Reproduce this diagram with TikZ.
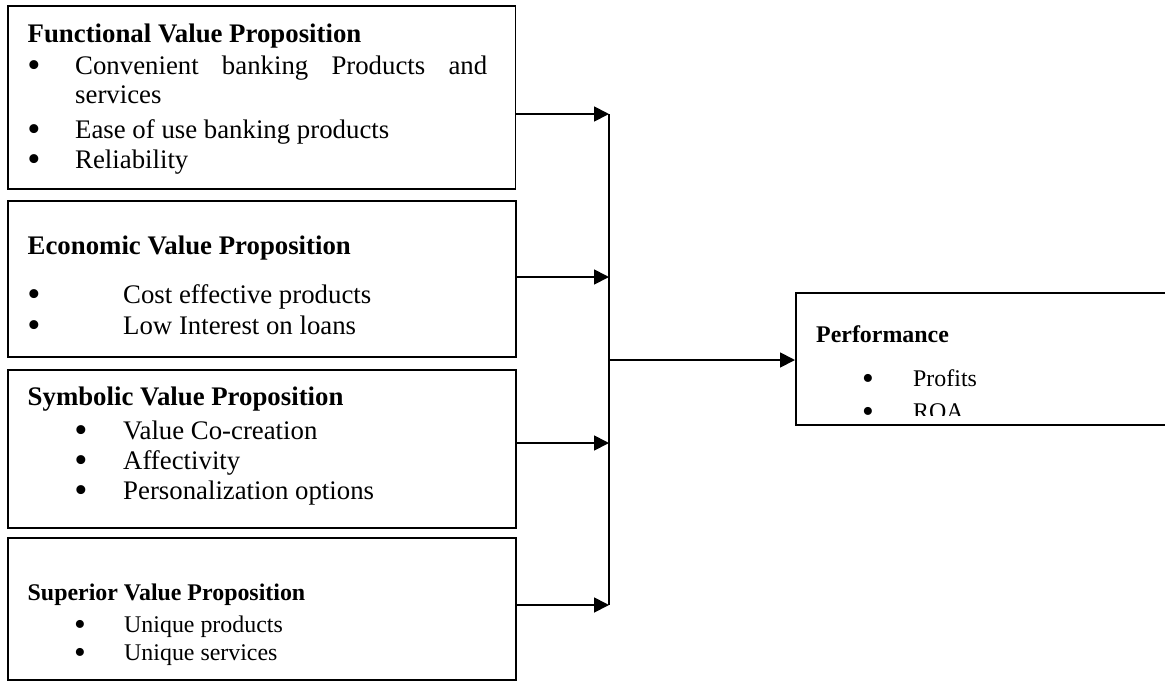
\documentclass[tikz,border=0pt]{standalone}
\usepackage{fontspec}
\setmainfont{Liberation Serif}
\usetikzlibrary{arrows.meta}
\newcommand{\bigbul}{\smash{\raisebox{-3pt}{\scalebox{1.4}{\textbullet}}}}
\begin{document}
\begin{tikzpicture}[x=1pt,y=-1pt,
  box/.style={draw,line width=1.8pt,inner sep=0pt,anchor=north west},
  txt/.style={anchor=base west,inner sep=0pt,font=\fontsize{26.8}{30}\selectfont},
  ttl/.style={anchor=base west,inner sep=0pt,font=\fontsize{26.8}{30}\selectfont\bfseries},
  stxt/.style={anchor=base west,inner sep=0pt,font=\fontsize{23.9}{27}\selectfont},
  sttl/.style={anchor=base west,inner sep=0pt,font=\fontsize{23.9}{27}\selectfont\bfseries},
  bul/.style={anchor=base,inner sep=0pt,font=\fontsize{26.8}{30}\selectfont},
  sbul/.style={anchor=base,inner sep=0pt,font=\fontsize{23.9}{27}\selectfont},
  link/.style={line width=1.8pt},
  arr/.style={line width=1.8pt,-{Triangle[length=15pt,width=15pt]}}]
\useasboundingbox (0,0) rectangle (1165,681);

% boxes
\node[box,minimum width=507.5pt,minimum height=183pt] (b1) at (7,5) {};
\node[box,minimum width=508pt,minimum height=156pt] (b2) at (7,200) {};
\node[box,minimum width=508pt,minimum height=158pt] (b3) at (7,369) {};
\node[box,minimum width=508pt,minimum height=142pt] (b4) at (7,537) {};
\node[box,minimum width=400pt,minimum height=132pt] (perf) at (795,292) {};

% box 1
\node[ttl] (t1) at (27.5,42) {Functional Value Proposition};
\node[bul] (b1a) at (34,74) {\bigbul};
\node[txt,text width=412pt,align=justify] (l1a) at (75,74) {Convenient\hfill banking\hfill Products\hfill and};
\node[txt] (l1b) at (75,103) {services};
\node[bul] (b1c) at (34,138) {\bigbul};
\node[txt] (l1c) at (75,138) {Ease of use banking products};
\node[bul] (b1d) at (34,168) {\bigbul};
\node[txt] (l1d) at (75,168) {Reliability};

% box 2
\node[ttl] (t2) at (27.5,254) {Economic Value Proposition};
\node[bul] (b2a) at (34,303) {\bigbul};
\node[txt] (l2a) at (123,303) {Cost effective products};
\node[bul] (b2b) at (34,334) {\bigbul};
\node[txt] (l2b) at (123,334) {Low Interest on loans};

% box 3
\node[ttl] (t3) at (27.5,405) {Symbolic Value Proposition};
\node[bul] (b3a) at (81,439) {\bigbul};
\node[txt] (l3a) at (123,439) {Value Co-creation};
\node[bul] (b3b) at (81,469) {\bigbul};
\node[txt] (l3b) at (123,469) {Affectivity};
\node[bul] (b3c) at (81,499) {\bigbul};
\node[txt] (l3c) at (123,499) {Personalization options};

% box 4
\node[sttl] (t4) at (27.5,600) {Superior Value Proposition};
\node[sbul] (b4a) at (80,632) {\bigbul};
\node[stxt] (l4a) at (124,632) {Unique products};
\node[sbul] (b4b) at (80,660) {\bigbul};
\node[stxt] (l4b) at (124,660) {Unique services};

% performance
\node[sttl] (t5) at (816,342) {Performance};
\node[sbul] (b5a) at (868,386) {\bigbul};
\node[stxt] (l5a) at (913,386) {Profits};
\begin{scope}
\clip (795,292) rectangle (1165,415.5);
\node[sbul] (b5b) at (868,419.5) {\bigbul};
\node[stxt] (l5b) at (913,419.5) {ROA};
\end{scope}

% connectors
\coordinate (j1) at (609,114);
\coordinate (j2) at (609,277);
\coordinate (j3) at (609,443);
\coordinate (j4) at (609,605);
\coordinate (jm) at (609,360);
\draw[arr] (b1.east |- j1) -- (j1);
\draw[arr] (b2.east |- j2) -- (j2);
\draw[arr] (b3.east |- j3) -- (j3);
\draw[arr] (b4.east |- j4) -- (j4);
\draw[link] (j1) -- (j4);
\draw[arr] (jm) -- (perf.west |- jm);
\end{tikzpicture}
\end{document}
